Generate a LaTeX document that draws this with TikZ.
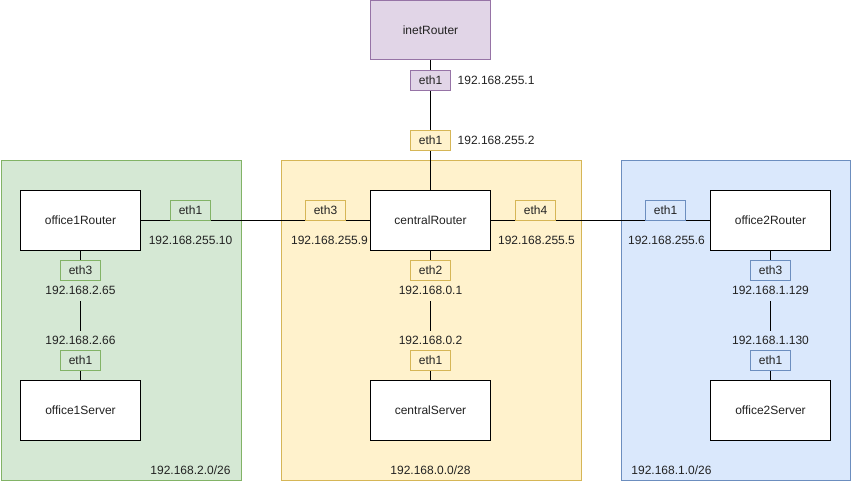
\documentclass[tikz,border=0pt]{standalone}
\usepackage{fontspec}
\setmainfont{Liberation Sans}
\definecolor{greenfill}{HTML}{D5E8D4}\definecolor{greenline}{HTML}{82B366}
\definecolor{yellowfill}{HTML}{FFF2CC}\definecolor{yellowline}{HTML}{D6B656}
\definecolor{bluefill}{HTML}{DAE8FC}\definecolor{blueline}{HTML}{6C8EBF}
\definecolor{purplefill}{HTML}{E1D5E7}\definecolor{purpleline}{HTML}{9673A6}
\definecolor{txt}{HTML}{222222}
\begin{document}
\begin{tikzpicture}[x=1pt,y=-1pt,
  font=\fontsize{12}{14}\selectfont, text=txt,
  net/.style 2 args={draw=#2, fill=#1, line width=1pt, inner sep=0pt, anchor=north west},
  host/.style={draw=black, fill=white, line width=1pt, minimum width=120pt, minimum height=60pt, inner sep=0pt},
  port/.style 2 args={draw=#2, fill=#1, line width=1pt, minimum width=40pt, minimum height=20pt, inner sep=0pt},
  ip/.style={inner sep=1pt},
  ipon/.style={fill=#1, inner sep=0pt, minimum height=20pt},
  link/.style={draw=black, line width=1pt}]
\useasboundingbox (0,0) rectangle (851,481);
\begin{scope}[shift={(0.5,0.5)}]

% network areas
\node[net={greenfill}{greenline}, minimum width=240pt, minimum height=319pt] (lan1) at (0,160) {};
\node[net={yellowfill}{yellowline}, minimum width=300pt, minimum height=319pt] (lan0) at (280,160) {};
\node[net={bluefill}{blueline}, minimum width=229pt, minimum height=319pt] (lan2) at (620,160) {};
\node[ip] (lan1name) at (190,470) {192.168.2.0/26};
\node[ip] (lan0name) at (430,470) {192.168.0.0/28};
\node[ip] (lan2name) at (671,470) {192.168.1.0/26};

% hosts
\node[host, fill=purplefill, draw=purpleline, minimum height=59pt] (inet) at (430,30) {inetRouter};
\node[host] (central) at (430,220) {centralRouter};
\node[host] (o1r) at (80,220) {office1Router};
\node[host] (o2r) at (770,220) {office2Router};
\node[host] (cs) at (430,410) {centralServer};
\node[host] (o1s) at (80,410) {office1Server};
\node[host] (o2s) at (770,410) {office2Server};

% links
\draw[link] (inet.south) -- (central.north);
\draw[link] (o1r.east) -- (central.west);
\draw[link] (central.east) -- (o2r.west);
\draw[link] (o1r.south) -- (o1s.north);
\draw[link] (central.south) -- (cs.north);
\draw[link] (o2r.south) -- (o2s.north);

% interfaces
\node[port={purplefill}{purpleline}] (inetEth1) at (430,80) {eth1};
\node[ip, anchor=west] (inetIp) at (456,80) {192.168.255.1};
\node[port={yellowfill}{yellowline}] (cEth1) at (430,140) {eth1};
\node[ip, anchor=west] (cIp1) at (456,140) {192.168.255.2};

\node[port={yellowfill}{yellowline}] (cEth3) at (325,210) {eth3};
\node[ip] (cIp3) at (329,240) {192.168.255.9};
\node[port={yellowfill}{yellowline}] (cEth4) at (535,210) {eth4};
\node[ip] (cIp4) at (536,240) {192.168.255.5};
\node[port={yellowfill}{yellowline}] (cEth2) at (430,270) {eth2};
\node[ipon=yellowfill] (cIp2) at (430,290) {192.168.0.1};
\node[ipon=yellowfill] (csIp) at (430,340) {192.168.0.2};
\node[port={yellowfill}{yellowline}] (csEth1) at (430,360) {eth1};

\node[port={greenfill}{greenline}] (o1Eth1) at (190,210) {eth1};
\node[ip] (o1Ip1) at (190,240) {192.168.255.10};
\node[port={greenfill}{greenline}] (o1Eth3) at (80,270) {eth3};
\node[ipon=greenfill] (o1Ip3) at (80,290) {192.168.2.65};
\node[ipon=greenfill] (o1sIp) at (80,340) {192.168.2.66};
\node[port={greenfill}{greenline}] (o1sEth1) at (80,360) {eth1};

\node[port={bluefill}{blueline}] (o2Eth1) at (665,210) {eth1};
\node[ip] (o2Ip1) at (666,240) {192.168.255.6};
\node[port={bluefill}{blueline}] (o2Eth3) at (770,270) {eth3};
\node[ipon=bluefill] (o2Ip3) at (770,290) {192.168.1.129};
\node[ipon=bluefill] (o2sIp) at (770,340) {192.168.1.130};
\node[port={bluefill}{blueline}] (o2sEth1) at (770,360) {eth1};
\end{scope}
\end{tikzpicture}
\end{document}
